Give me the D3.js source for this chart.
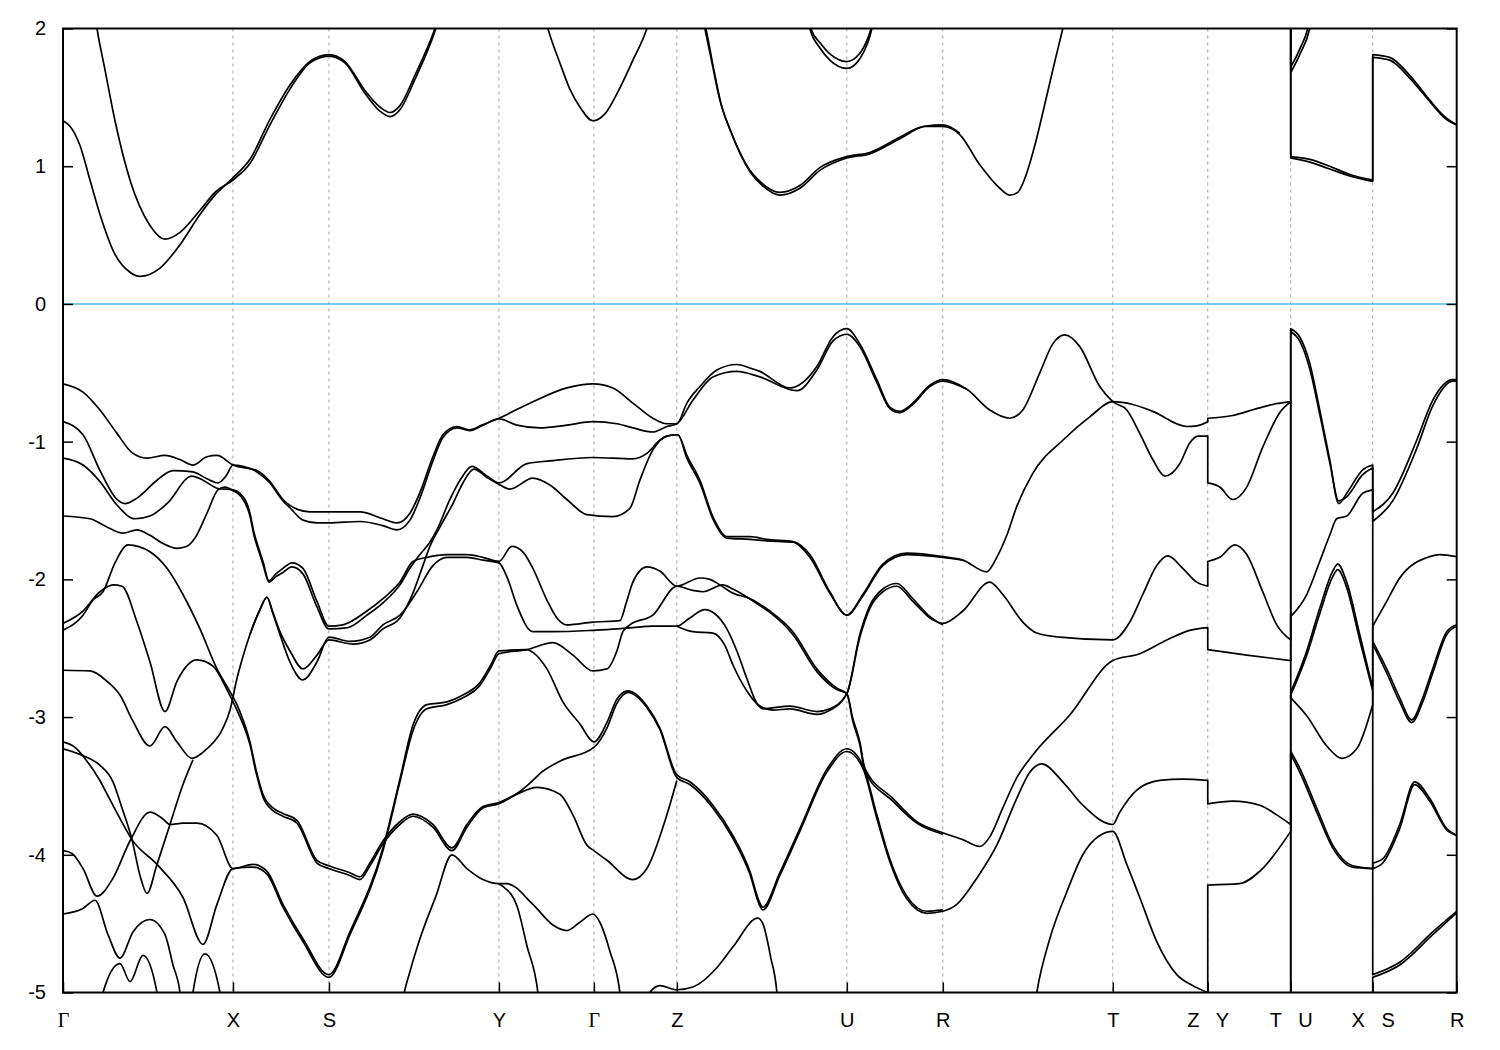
<!DOCTYPE html>
<html><head><meta charset="utf-8">
<script src="https://cdn.jsdelivr.net/npm/d3@7"></script>
<style>body{margin:0;background:#fff}</style>
</head><body>
<svg id="chart" width="1500" height="1050"></svg>
<script>
// ---- axes data ----
const kTicks = [0,170,266,436,531,614,784,880,1050,1145,1228,1310,1394];
const kLabels = ["Γ","X","S","Y","Γ","Z","U","R","T","Z   Y","T   U","X   S","R"];
const eTicks = [2,1,0,-1,-2,-3,-4,-5];
const eRange = [-5,2];
const fermi = 0;

// ---- conduction pieces [k, E(eV)] ----
const cb1 = [[0,1.33],[7,1.29],[17,1.15],[27,0.90],[37,0.65],[52,0.36],[67,0.23],[77,0.2],[97,0.26],[117,0.43],[137,0.65],[152,0.79],[170,0.915],[187,1.05],[207,1.34],[227,1.59],[247,1.76],[266,1.81],[282,1.76],[302,1.55],[317,1.43],[327,1.39],[337,1.44],[352,1.66],[372,2.0],[385,2.3]];
const cb2 = [[30,2.2],[34,2.0],[42,1.70],[52,1.33],[67,0.90],[87,0.57],[102,0.47],[117,0.52],[137,0.68],[152,0.81],[170,0.90],[187,1.02],[207,1.30],[227,1.56],[247,1.75],[266,1.80],[282,1.75],[302,1.53],[317,1.40],[327,1.36],[337,1.41],[352,1.63],[372,1.98],[385,2.3]];
const cb3 = [[478,2.2],[485,2.0],[497,1.75],[507,1.56],[517,1.43],[530,1.33],[542,1.38],[555,1.54],[570,1.77],[584,2.0],[590,2.15]];
const cb4 = [[636,2.2],[642,2.0],[650,1.72],[657,1.48],[667,1.27],[677,1.10],[687,0.97],[697,0.89],[717,0.81],[737,0.86],[757,0.99],[784,1.07],[807,1.10],[837,1.21],[862,1.29],[880,1.29],[897,1.23],[917,1.01],[937,0.84],[947,0.79],[955,0.81],[963,0.93],[972,1.15],[982,1.45],[992,1.76],[1000,2.0],[1006,2.2]];
const cb5 = [[636,2.2],[643,2.0],[651,1.70],[658,1.46],[668,1.25],[678,1.08],[688,0.95],[698,0.87],[717,0.79],[737,0.84],[757,0.97],[784,1.06],[807,1.09],[837,1.20],[862,1.29],[880,1.30],[897,1.24]];
const cb6 = [[743,2.2],[747,2.0],[757,1.86],[767,1.77],[784,1.71],[797,1.78],[804,1.88],[809,2.0],[813,2.2]];
const cb7 = [[743,2.2],[748,2.0],[758,1.89],[768,1.81],[784,1.76],[797,1.82],[805,1.93],[809,2.02],[814,2.2]];
const cl1 = [[1215,2.6],[1228,2.6]];
const cu1 = [[1228,1.68],[1237,1.81],[1247,2.0],[1252,2.2]];
const cu2 = [[1228,1.72],[1237,1.85],[1246,2.03],[1250,2.2]];
const cu3 = [[1228,1.07],[1247,1.05],[1267,1.0],[1287,0.94],[1310,0.9]];
const cu4 = [[1228,1.06],[1247,1.03],[1267,0.98],[1287,0.93],[1310,0.89]];
const cs1 = [[1310,1.81],[1327,1.79],[1347,1.66],[1367,1.48],[1382,1.36],[1394,1.30]];
const cs2 = [[1310,1.79],[1327,1.77],[1347,1.64],[1367,1.47],[1382,1.35],[1394,1.30]];

// ---- valence pieces ----
const v1a = [[0,-0.58],[20,-0.64],[37,-0.77],[54,-0.94],[69,-1.08],[84,-1.12],[102,-1.10],[117,-1.13],[130,-1.17],[144,-1.11],[154,-1.10],[170,-1.17],[194,-1.21],[207,-1.29],[220,-1.42],[234,-1.49],[247,-1.51],[266,-1.51],[297,-1.51],[320,-1.56],[334,-1.59],[347,-1.52],[357,-1.37],[370,-1.11],[380,-0.95],[394,-0.89],[407,-0.915],[419,-0.88],[436,-0.83],[470,-0.71],[504,-0.61],[530,-0.58],[550,-0.61],[570,-0.72],[590,-0.83],[604,-0.87],[614,-0.87],[624,-0.72],[637,-0.60],[654,-0.48],[674,-0.44],[687,-0.465],[697,-0.49],[727,-0.61],[754,-0.455],[770,-0.24],[784,-0.18],[797,-0.29],[814,-0.55],[827,-0.75],[837,-0.78],[850,-0.72],[867,-0.59],[880,-0.55],[904,-0.62],[927,-0.77],[947,-0.83],[960,-0.77],[977,-0.50],[990,-0.29],[1002,-0.225],[1017,-0.31],[1037,-0.60],[1050,-0.71],[1064,-0.77],[1077,-0.94],[1090,-1.13],[1102,-1.25],[1117,-1.16],[1127,-1.01],[1135,-0.96],[1145,-0.96]];
const v1b = [[1145,-1.30],[1157,-1.33],[1170,-1.42],[1184,-1.33],[1200,-1.04],[1217,-0.79],[1228,-0.71]];
const bA = [[0,-0.855],[20,-0.95],[37,-1.21],[54,-1.42],[62,-1.45],[74,-1.41],[94,-1.28],[110,-1.21],[130,-1.22],[144,-1.27],[155,-1.30],[163,-1.25],[170,-1.17],[180,-1.18],[194,-1.22],[207,-1.30],[220,-1.43],[227,-1.48],[240,-1.57],[254,-1.59],[266,-1.59],[297,-1.58],[320,-1.61],[334,-1.64],[347,-1.57],[357,-1.41],[370,-1.14],[380,-0.97],[394,-0.90],[407,-0.92],[419,-0.885],[436,-0.835],[454,-0.88],[477,-0.90],[504,-0.88],[530,-0.855],[554,-0.87],[570,-0.90],[590,-0.93],[604,-0.89],[614,-0.87],[630,-0.70],[650,-0.53],[674,-0.49],[697,-0.53],[734,-0.63],[754,-0.48],[770,-0.27],[784,-0.22],[797,-0.31],[814,-0.57],[827,-0.76],[837,-0.79],[850,-0.73],[867,-0.60],[880,-0.56],[904,-0.62]];
const ccA = [[0,-1.12],[20,-1.17],[37,-1.29],[54,-1.46],[72,-1.56],[87,-1.54],[104,-1.45],[129,-1.25],[140,-1.28],[155,-1.34],[170,-1.35],[177,-1.375],[187,-1.52],[191,-1.66],[196,-1.78],[200,-1.87],[206,-2.01],[213,-1.96],[220,-1.92],[229,-1.88],[240,-1.92],[254,-2.16],[266,-2.34],[280,-2.33],[304,-2.23],[320,-2.14],[337,-2.02],[350,-1.87],[364,-1.84],[384,-1.82],[404,-1.82],[420,-1.84],[436,-1.87],[449,-1.76],[460,-1.80],[470,-1.92],[484,-2.15],[494,-2.28],[504,-2.33],[530,-2.31],[557,-2.30],[563,-2.18],[570,-2.02],[584,-1.91],[597,-1.94],[614,-2.05],[637,-1.99],[647,-2.0],[657,-2.04],[670,-2.10],[687,-2.14],[697,-2.18],[707,-2.23],[730,-2.38],[754,-2.65],[774,-2.79],[784,-2.83],[790,-3.01],[797,-3.18],[802,-3.37],[830,-3.59],[854,-3.76],[880,-3.84],[900,-3.89],[917,-3.94],[927,-3.87],[940,-3.66],[954,-3.44],[970,-3.275],[1007,-2.985],[1050,-2.59],[1077,-2.54],[1104,-2.44],[1127,-2.37],[1145,-2.35]];
const ccB = [[1145,-2.51],[1184,-2.55],[1228,-2.59]];
const ddA = [[0,-2.66],[27,-2.665],[44,-2.74],[57,-2.84],[70,-3.03],[87,-3.21],[102,-3.07],[114,-3.18],[129,-3.30],[144,-3.23],[160,-3.08],[167,-2.95],[174,-2.72],[180,-2.56],[187,-2.40],[197,-2.22],[204,-2.13],[210,-2.25],[217,-2.40],[227,-2.60],[240,-2.73],[254,-2.60],[266,-2.42],[287,-2.45],[307,-2.42],[320,-2.33],[337,-2.26],[354,-2.09],[370,-1.90],[384,-1.84],[404,-1.84],[420,-1.86],[436,-1.88],[445,-2.0],[454,-2.19],[470,-2.38],[490,-2.38],[530,-2.37],[554,-2.36],[570,-2.35],[590,-2.34],[614,-2.34],[627,-2.28],[642,-2.22],[652,-2.25],[664,-2.36],[674,-2.52],[684,-2.72],[694,-2.90],[700,-2.94],[727,-2.92],[754,-2.96],[767,-2.94],[784,-2.83],[797,-2.40],[807,-2.19],[820,-2.07],[834,-2.03],[850,-2.14],[867,-2.27],[880,-2.32],[900,-2.23],[927,-2.02],[940,-2.11],[960,-2.31],[974,-2.39],[997,-2.42],[1050,-2.44],[1067,-2.31],[1080,-2.11],[1094,-1.90],[1105,-1.83],[1120,-1.92],[1134,-2.02],[1145,-2.05]];
const ddB = [[1145,-1.87],[1157,-1.84],[1172,-1.75],[1184,-1.82],[1200,-2.09],[1214,-2.33],[1228,-2.44]];
const g2A = [[187,-2.40],[197,-2.22],[204,-2.13],[210,-2.24],[217,-2.38],[227,-2.52],[240,-2.65],[254,-2.55],[266,-2.44],[290,-2.47],[307,-2.44],[320,-2.36],[337,-2.28],[350,-2.10],[360,-1.90],[367,-1.76],[377,-1.62],[390,-1.45],[400,-1.30],[411,-1.20],[424,-1.26],[436,-1.31],[447,-1.345],[470,-1.265],[487,-1.315],[504,-1.42],[524,-1.53],[550,-1.545],[567,-1.485],[577,-1.28],[590,-1.06],[604,-0.96],[615,-0.95],[624,-1.12],[637,-1.30],[650,-1.56],[664,-1.70],[687,-1.71],[704,-1.72],[730,-1.73],[747,-1.84],[767,-2.10],[784,-2.26],[800,-2.12],[820,-1.90],[844,-1.82],[880,-1.84],[900,-1.86]];
const c2A = [[0,-1.54],[27,-1.56],[44,-1.62],[60,-1.665],[74,-1.64],[87,-1.68],[100,-1.74],[114,-1.775],[124,-1.76],[132,-1.70],[144,-1.52],[155,-1.35],[162,-1.33],[170,-1.355],[177,-1.39],[187,-1.54],[191,-1.68],[196,-1.80],[200,-1.89],[206,-2.02],[213,-1.98],[220,-1.95],[229,-1.91],[240,-1.96],[254,-2.20],[266,-2.36],[285,-2.35],[304,-2.26],[320,-2.17],[337,-2.04],[347,-1.92],[357,-1.82],[366,-1.74],[374,-1.64],[387,-1.42],[398,-1.27],[409,-1.18],[424,-1.25],[436,-1.30],[464,-1.16],[487,-1.14],[530,-1.115],[570,-1.125],[584,-1.085],[597,-0.99],[604,-0.96],[615,-0.95],[624,-1.10],[637,-1.28],[650,-1.545],[664,-1.69],[687,-1.69],[704,-1.71],[730,-1.725],[747,-1.82],[767,-2.09],[784,-2.26],[800,-2.11],[820,-1.89],[844,-1.81],[880,-1.835],[900,-1.86],[924,-1.945],[934,-1.84],[944,-1.68],[954,-1.47],[970,-1.23],[1000,-0.99],[1027,-0.82],[1050,-0.71],[1070,-0.73],[1090,-0.78],[1124,-0.89],[1134,-0.885],[1145,-0.855]];
const c2B = [[1145,-0.83],[1170,-0.81],[1194,-0.76],[1210,-0.73],[1228,-0.71]];
const s1A = [[0,-2.37],[20,-2.26],[30,-2.15],[40,-2.09],[52,-1.88],[65,-1.75],[87,-1.80],[104,-1.92],[120,-2.11],[137,-2.36],[154,-2.65],[167,-2.815],[174,-2.91],[180,-3.02],[187,-3.18],[193,-3.38],[200,-3.56],[210,-3.66],[220,-3.70],[234,-3.75],[254,-4.04],[266,-4.08],[287,-4.13],[297,-4.16],[307,-4.06],[320,-3.90],[337,-3.76],[350,-3.705],[370,-3.78],[389,-3.95],[404,-3.78],[420,-3.65],[436,-3.62],[457,-3.54],[470,-3.46],[477,-3.41],[497,-3.32],[531,-3.22],[544,-3.08],[554,-2.90],[565,-2.82],[584,-2.93],[597,-3.09],[614,-3.44],[627,-3.49],[650,-3.66],[670,-3.88],[687,-4.14],[697,-4.37],[700,-4.40],[717,-4.15],[737,-3.83],[764,-3.40],[784,-3.25],[800,-3.37],[814,-3.735],[827,-4.05],[844,-4.32],[864,-4.425],[880,-4.41],[894,-4.36],[914,-4.17],[934,-3.93],[954,-3.59],[967,-3.40],[979,-3.34],[1000,-3.47],[1020,-3.64],[1050,-3.78],[1057,-3.69],[1074,-3.53],[1097,-3.46],[1120,-3.45],[1145,-3.46]];
const s1B = [[1145,-3.63],[1170,-3.61],[1197,-3.64],[1214,-3.71],[1228,-3.78]];
const vcA = [[0,-2.32],[20,-2.23],[37,-2.09],[50,-2.04],[59,-2.05],[74,-2.31],[87,-2.60],[102,-2.96],[114,-2.74],[134,-2.585],[150,-2.63],[164,-2.80],[174,-2.95],[180,-3.05],[187,-3.20],[193,-3.40],[200,-3.58],[210,-3.68],[220,-3.72],[234,-3.77],[254,-4.06],[266,-4.10],[287,-4.15],[297,-4.18],[307,-4.08],[320,-3.92],[337,-3.78],[350,-3.72],[370,-3.80],[389,-3.97],[404,-3.80],[420,-3.66],[436,-3.63],[454,-3.56],[474,-3.51],[497,-3.56],[510,-3.71],[524,-3.93],[531,-3.97],[544,-4.04],[570,-4.18],[584,-4.10],[604,-3.71],[614,-3.46]];
const kA = [[0,-3.97],[9,-3.99],[20,-4.10],[34,-4.30],[50,-4.17],[67,-3.90],[87,-3.69],[100,-3.74],[107,-3.78],[120,-3.77],[134,-3.77],[154,-3.86],[170,-4.10],[190,-4.07],[204,-4.12],[220,-4.36],[240,-4.61],[266,-4.87],[287,-4.56],[320,-3.95],[337,-3.45],[350,-3.06],[364,-2.91],[384,-2.89],[400,-2.84],[417,-2.75],[428,-2.62],[436,-2.52],[464,-2.51],[470,-2.53],[484,-2.65],[500,-2.89],[517,-3.05],[531,-3.18],[544,-3.04],[554,-2.87],[565,-2.81],[584,-2.92],[597,-3.08],[614,-3.42],[627,-3.47],[650,-3.64],[670,-3.86],[687,-4.12],[697,-4.35],[700,-4.38],[717,-4.13],[737,-3.81],[764,-3.38],[784,-3.23],[800,-3.35],[814,-3.71],[827,-4.03],[844,-4.30],[864,-4.41],[880,-4.40]];
const l1A = [[0,-3.18],[12,-3.22],[24,-3.32],[36,-3.45],[47,-3.60],[58,-3.75],[69,-3.89],[94,-4.07],[120,-4.31],[140,-4.65],[154,-4.36],[170,-4.10],[190,-4.09],[204,-4.14],[220,-4.38],[240,-4.63],[266,-4.89],[287,-4.58],[320,-3.97],[337,-3.47],[350,-3.10],[364,-2.94],[384,-2.91],[400,-2.86],[417,-2.77],[428,-2.64],[436,-2.54],[464,-2.51],[490,-2.46],[510,-2.55],[530,-2.665],[544,-2.65],[554,-2.52],[560,-2.38],[567,-2.33],[590,-2.26],[614,-2.05],[630,-2.08],[640,-2.09],[660,-2.04],[670,-2.07],[697,-2.19],[707,-2.24],[730,-2.40],[754,-2.67],[774,-2.80],[784,-2.83],[790,-3.03],[797,-3.20],[802,-3.39],[830,-3.61],[854,-3.77],[880,-3.85]];
const l2A = [[0,-3.23],[20,-3.28],[37,-3.35],[50,-3.47],[59,-3.66],[69,-3.89],[77,-4.15],[84,-4.28],[94,-4.07],[107,-3.78],[120,-3.49],[130,-3.31]];
const q2A = [[614,-2.34],[630,-2.38],[650,-2.39],[662,-2.48],[670,-2.62],[684,-2.81],[697,-2.92],[710,-2.95],[727,-2.94],[754,-2.98],[767,-2.95],[784,-2.83],[797,-2.42],[807,-2.21],[820,-2.09],[834,-2.05],[850,-2.16],[867,-2.28],[880,-2.33]];
const m1A = [[0,-4.43],[20,-4.39],[32,-4.33],[45,-4.58],[57,-4.75],[70,-4.56],[87,-4.47],[102,-4.58],[110,-4.80],[117,-5.0],[120,-5.2]];
const m2A = [[38,-5.2],[40,-5.0],[57,-4.79],[67,-4.92],[80,-4.73],[94,-5.0],[96,-5.2]];
const m3A = [[128,-5.2],[130,-5.0],[142,-4.72],[157,-5.0],[159,-5.2]];
const n1A = [[337,-5.2],[340,-5.05],[347,-4.85],[357,-4.61],[373,-4.30],[389,-4.0],[404,-4.10],[420,-4.18],[436,-4.21],[444,-4.21],[470,-4.36],[490,-4.51],[504,-4.55],[517,-4.49],[530,-4.43],[537,-4.49],[547,-4.70],[557,-5.0],[560,-5.2]];
const n2A = [[436,-4.21],[440,-4.23],[454,-4.37],[464,-4.66],[475,-5.0],[478,-5.2]];
const p5A = [[582,-5.2],[587,-5.0],[597,-4.95],[614,-4.98],[630,-4.96],[654,-4.82],[670,-4.67],[695,-4.46],[700,-4.50],[708,-4.75],[714,-5.0],[716,-5.2]];
const nrA = [[968,-5.3],[974,-5.0],[987,-4.61],[1004,-4.27],[1020,-4.0],[1037,-3.86],[1050,-3.83],[1064,-4.07],[1077,-4.31],[1094,-4.63],[1114,-4.87],[1130,-4.95],[1145,-5.0]];
const nrB = [[1145,-4.22],[1177,-4.21],[1197,-4.12],[1228,-3.83]];
const bl = [[1215,-5.4],[1228,-5.4]];
const bl3 = [[1300,-5.4],[1310,-5.4]];
// U -> X
const ux1 = [[1228,-0.18],[1237,-0.24],[1247,-0.43],[1257,-0.77],[1267,-1.13],[1276,-1.45],[1284,-1.375],[1300,-1.205],[1310,-1.17]];
const ux2 = [[1228,-0.20],[1237,-0.27],[1247,-0.47],[1257,-0.80],[1267,-1.15],[1276,-1.43],[1284,-1.40],[1300,-1.24],[1310,-1.19]];
const ux3 = [[1228,-2.27],[1244,-2.11],[1257,-1.87],[1267,-1.68],[1274,-1.56],[1284,-1.54],[1300,-1.375],[1310,-1.35]];
const ux4 = [[1228,-2.82],[1244,-2.52],[1257,-2.21],[1270,-1.94],[1275,-1.89],[1284,-2.02],[1297,-2.40],[1310,-2.79]];
const ux5 = [[1228,-2.84],[1244,-2.55],[1257,-2.25],[1270,-1.98],[1275,-1.93],[1284,-2.06],[1297,-2.44],[1310,-2.81]];
const ux6 = [[1228,-2.86],[1244,-2.99],[1264,-3.21],[1279,-3.30],[1294,-3.23],[1310,-2.91]];
const ux7 = [[1228,-3.25],[1237,-3.37],[1254,-3.66],[1270,-3.93],[1290,-4.08],[1310,-4.10]];
const ux8 = [[1228,-3.27],[1237,-3.40],[1254,-3.69],[1270,-3.95],[1290,-4.09],[1310,-4.10]];
// S -> R
const xs1 = [[1310,-1.51],[1330,-1.375],[1354,-0.99],[1370,-0.70],[1390,-0.55],[1394,-0.55]];
const xs2 = [[1310,-1.58],[1330,-1.43],[1354,-1.05],[1370,-0.74],[1390,-0.56],[1394,-0.56]];
const xs3 = [[1310,-2.34],[1324,-2.16],[1337,-1.99],[1367,-1.835],[1377,-1.82],[1394,-1.835]];
const xs4 = [[1310,-2.45],[1324,-2.65],[1337,-2.86],[1349,-3.02],[1360,-2.86],[1370,-2.65],[1384,-2.38],[1394,-2.33]];
const xs5 = [[1310,-2.47],[1324,-2.68],[1337,-2.89],[1349,-3.04],[1360,-2.89],[1370,-2.68],[1384,-2.40],[1394,-2.34]];
const xs6 = [[1310,-4.06],[1320,-4.03],[1337,-3.78],[1352,-3.47],[1367,-3.59],[1384,-3.81],[1394,-3.86]];
const xs7 = [[1310,-4.10],[1320,-4.06],[1337,-3.81],[1352,-3.49],[1367,-3.61],[1384,-3.82],[1394,-3.86]];
const xs8 = [[1310,-4.87],[1337,-4.78],[1370,-4.56],[1394,-4.41]];
const xs9 = [[1310,-4.89],[1337,-4.80],[1370,-4.58],[1394,-4.42]];

// bands: ordered lists of pieces
const bands = [
  [cb1],[cb2],[cb3],[cb4],[cb5],[cb6],[cb7],
  [cl1,cu1],[cl1,cu2],[cl1,cu3,cs1],[cl1,cu4,cs2],
  [v1a,v1b,ux6,xs5],[bA],[ccA,ccB,ux3,xs4],[ddA,ddB,ux2,xs2],[g2A],
  [c2A,c2B,ux1,xs1],[s1A,s1B,ux5,xs7],[vcA],[kA],[l1A],[l2A],[q2A],
  [m1A],[m2A],[m3A],[n1A],[n2A],[p5A],[nrA,nrB,ux4,xs3],
  [bl,ux7,xs6],[bl,ux8,xs8],[bl3,xs9]
];

// ---- drawing ----
const svg = d3.select('#chart');
const m = {l:63, r:1456.7, t:28.5, b:992.5};
const x = d3.scaleLinear().domain([kTicks[0], kTicks[kTicks.length-1]]).range([m.l, m.r]);
const y = d3.scaleLinear().domain(eRange).range([m.b, m.t]);
const FONT = '"Liberation Sans", Arial, sans-serif';

svg.append('defs').append('clipPath').attr('id','clip').append('rect')
  .attr('x',m.l).attr('y',m.t).attr('width',m.r-m.l).attr('height',m.b-m.t);

svg.append('g').selectAll('line').data(kTicks.slice(1,-1)).join('line')
  .attr('x1',d=>x(d)).attr('x2',d=>x(d)).attr('y1',m.t).attr('y2',m.b)
  .attr('stroke','#a0a0a0').attr('stroke-width',1).attr('stroke-dasharray','3,4');

svg.append('line').attr('x1',m.l).attr('x2',m.r).attr('y1',y(fermi)).attr('y2',y(fermi))
  .attr('stroke','#56b4e9').attr('stroke-width',1.6);

const line = d3.line().x(d=>x(d[0])).y(d=>y(d[1])).curve(d3.curveMonotoneX);
function bandPath(pieces){
  return pieces.map((p,i)=>{ const s=line(p); return i ? 'L'+s.slice(1) : s; }).join('');
}
svg.append('g').attr('clip-path','url(#clip)').selectAll('path').data(bands).join('path')
  .attr('d',bandPath).attr('fill','none').attr('stroke','#000').attr('stroke-width',1.7)
  .attr('stroke-linejoin','round');

svg.append('rect').attr('x',m.l).attr('y',m.t).attr('width',m.r-m.l).attr('height',m.b-m.t)
  .attr('fill','none').attr('stroke','#000').attr('stroke-width',2);

const gL = svg.append('g').attr('transform',`translate(${m.l},0)`)
  .call(d3.axisLeft(y).tickValues(eTicks).tickSize(-10).tickPadding(17).tickFormat(d=>String(d)));
const gR = svg.append('g').attr('transform',`translate(${m.r},0)`)
  .call(d3.axisRight(y).tickValues(eTicks).tickSize(-10).tickFormat(''));
const gB = svg.append('g').attr('transform',`translate(0,${m.b})`)
  .call(d3.axisBottom(x).tickValues(kTicks).tickSize(-10).tickPadding(20).tickFormat((d,i)=>kLabels[i]));
[gL,gR,gB].forEach(g=>{
  g.select('.domain').remove();
  g.selectAll('line').attr('stroke','#000').attr('stroke-width',1.5);
  g.attr('font-family',FONT).attr('font-size',20);
  g.selectAll('text').attr('fill','#000').style('white-space','pre');
});
gB.selectAll('text').filter(d=>kLabels[kTicks.indexOf(d)]==='Γ')
  .attr('font-family','"Liberation Serif", "DejaVu Serif", serif');
</script>
</body></html>
